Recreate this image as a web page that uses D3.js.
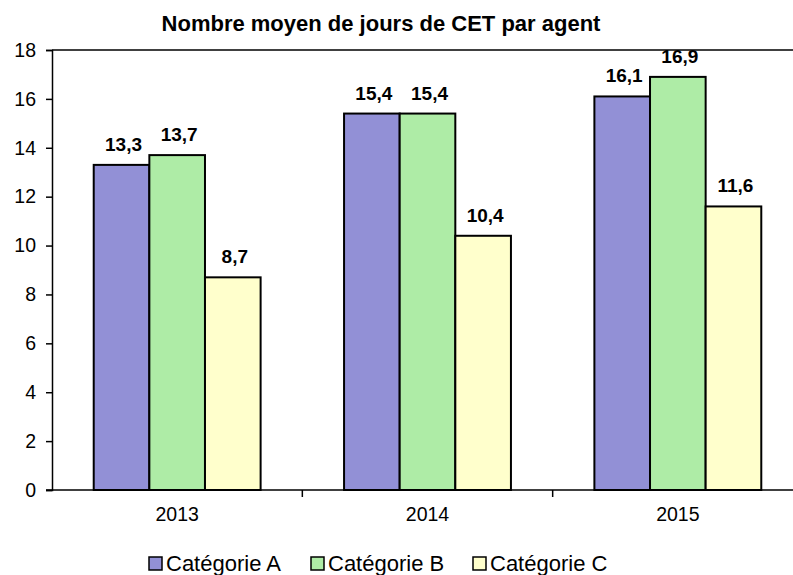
<!DOCTYPE html>
<html lang="fr">
<head>
<meta charset="UTF-8">
<script src="https://d3js.org/d3.v7.min.js"></script>
<style>
  body { margin: 0; background: #fff; font-family: "Liberation Sans", Arial, sans-serif; }
  svg { display: block; }
</style>
</head>
<body>
<div id="chart"></div>
<script>
    // data
    const years = ["2013", "2014", "2015"];
    const categories = ["Catégorie A", "Catégorie B", "Catégorie C"];
    const valuesA = [13.3, 15.4, 16.1];
    const valuesB = [13.7, 15.4, 16.9];
    const valuesC = [8.7, 10.4, 11.6];
    const yTicks = [0, 2, 4, 6, 8, 10, 12, 14, 16, 18];
    const colors = ["#9290d6", "#aeeca6", "#ffffcc"];

    const series = [valuesA, valuesB, valuesC];

    const width = 793, height = 575;
    const plotLeft = 52, plotRight = 803, plotTop = 50, plotBottom = 490;

    const svg = d3.select("#chart").append("svg")
        .attr("width", width)
        .attr("height", height);

    // scales
    const x0 = d3.scaleBand()
        .domain(years)
        .range([plotLeft, plotRight])
        .paddingInner(1 / 3)
        .paddingOuter(1 / 6);

    const x1 = d3.scaleBand()
        .domain(categories)
        .range([0, x0.bandwidth()]);

    const y = d3.scaleLinear()
        .domain([0, 18])
        .range([plotBottom, plotTop]);

    // title
    svg.append("text")
        .attr("x", 381)
        .attr("y", 31)
        .attr("text-anchor", "middle")
        .style("font-size", "22px")
        .style("font-weight", "bold")
        .text("Nombre moyen de jours de CET par agent");

    // top border of plot area
    svg.append("line")
        .attr("x1", plotLeft).attr("x2", plotRight)
        .attr("y1", plotTop).attr("y2", plotTop)
        .attr("stroke", "#000").attr("stroke-width", 1.5);

    // y axis
    const yAxis = svg.append("g")
        .attr("transform", `translate(${plotLeft},0)`)
        .call(d3.axisLeft(y).tickValues(yTicks).tickSize(6).tickPadding(10).tickFormat(d3.format("d")));
    yAxis.select(".domain").attr("stroke", "#000").attr("stroke-width", 1.5);
    yAxis.selectAll(".tick line").attr("stroke", "#000").attr("stroke-width", 1.5);
    yAxis.selectAll("text")
        .style("font-size", "19.5px")
        .style("font-family", "Liberation Sans, Arial, sans-serif")
        .attr("fill", "#000");

    // bars
    const rows = years.map((yr, i) => ({year: yr, vals: categories.map((c, j) => ({cat: c, v: series[j][i], j: j}))}));

    const groups = svg.selectAll(".grp")
        .data(rows)
        .enter().append("g")
        .attr("class", "grp")
        .attr("transform", d => `translate(${x0(d.year)},0)`);

    groups.selectAll("rect")
        .data(d => d.vals)
        .enter().append("rect")
        .attr("x", d => x1(d.cat))
        .attr("y", d => y(d.v))
        .attr("width", x1.bandwidth())
        .attr("height", d => plotBottom - y(d.v))
        .attr("fill", d => colors[d.j])
        .attr("stroke", "#000")
        .attr("stroke-width", 2);

    // value labels
    groups.selectAll("text.val")
        .data(d => d.vals)
        .enter().append("text")
        .attr("class", "val")
        .attr("x", d => x1(d.cat) + x1.bandwidth() / 2 + 2)
        .attr("y", d => y(d.v) - 14)
        .attr("text-anchor", "middle")
        .style("font-size", "19px")
        .style("font-weight", "bold")
        .text(d => d3.format(".1f")(d.v).replace(".", ","));

    // x axis
    const xAxis = svg.append("g")
        .attr("transform", `translate(0,${plotBottom})`)
        .call(d3.axisBottom(x0).tickSize(0).tickPadding(17));
    xAxis.select(".domain").remove();
    svg.append("line")
        .attr("x1", plotLeft - 6).attr("x2", plotRight)
        .attr("y1", plotBottom).attr("y2", plotBottom)
        .attr("stroke", "#000").attr("stroke-width", 1.5);
    xAxis.selectAll("text")
        .style("font-size", "19.5px")
        .style("font-family", "Liberation Sans, Arial, sans-serif")
        .attr("fill", "#000");

    // tick marks between categories
    const step = x0.step();
    svg.selectAll(".xsep")
        .data(years.slice(1))
        .enter().append("line")
        .attr("class", "xsep")
        .attr("x1", d => x0(d) - step / 6 * 1).attr("x2", d => x0(d) - step / 6 * 1)
        .attr("y1", plotBottom).attr("y2", plotBottom + 7)
        .attr("stroke", "#000").attr("stroke-width", 1.5);

    // legend
    const legend = svg.append("g")
        .selectAll("g")
        .data(categories)
        .enter().append("g")
        .attr("transform", (d, i) => `translate(${149 + i * 162},557)`);

    legend.append("rect")
        .attr("width", 13)
        .attr("height", 13)
        .attr("fill", (d, i) => colors[i])
        .attr("stroke", "#000")
        .attr("stroke-width", 1.5);

    legend.append("text")
        .attr("x", 17)
        .attr("y", 14)
        .style("font-size", "22px")
        .text(d => d);
</script>
</body>
</html>
